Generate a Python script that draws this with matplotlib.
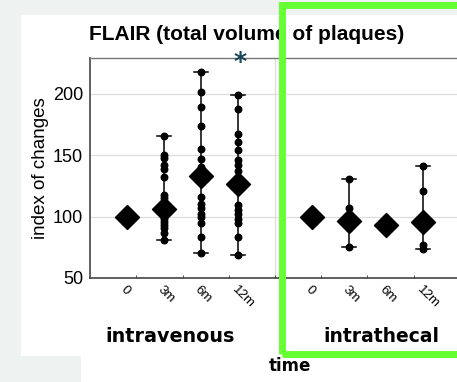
import numpy as np
import matplotlib
matplotlib.use('Agg')
import matplotlib.pyplot as plt
from matplotlib.patches import Rectangle

# time points and groups
tick_labels = ['0', '3m', '6m', '12m', '0', '3m', '6m', '12m']
positions = [1, 2, 3, 4, 6, 7, 8, 9]
groups = ['intravenous', 'intrathecal']

# individual values per time point (index of changes)
iv_0 = [100]
iv_3m = [165.8, 149.7, 147.5, 142.1, 138.9, 132.3, 117.7, 115.0, 112.0, 109.0,
         106.0, 104.0, 101.0, 98.0, 95.9, 93.0, 90.5, 86.4, 81.0]
iv_6m = [217.4, 201.3, 189.4, 173.3, 154.9, 146.8, 140.2, 135.0, 116.3, 110.3,
         107.0, 102.2, 99.5, 95.1, 83.2, 70.6]
iv_12m = [198.9, 187.5, 167.4, 160.6, 153.8, 146.2, 142.1, 137.2, 109.5, 105.4,
          102.2, 97.8, 95.1, 83.7, 69.0]
it_0 = [100]
it_3m = [130.7, 107.3, 90.5, 75.5]
it_6m = [93.2]
it_12m = [141.3, 120.7, 76.9, 73.4]

all_values = [iv_0, iv_3m, iv_6m, iv_12m, it_0, it_3m, it_6m, it_12m]
means = [100, 106.0, 132.6, 126.4, 100, 96.5, 93.2, 95.9]

fig = plt.figure(figsize=(4.57, 3.82), dpi=100)
fig.patch.set_facecolor('#eef2f1')
# white panel behind the chart
fig.patches.append(Rectangle((21 / 457, 26 / 382), 436 / 457, 341 / 382,
                             transform=fig.transFigure, facecolor='white',
                             edgecolor='none', zorder=-10))
fig.patches.append(Rectangle((81 / 457, 0), 376 / 457, 30 / 382,
                             transform=fig.transFigure, facecolor='white',
                             edgecolor='none', zorder=-10))

ax = fig.add_axes([90 / 457, 104 / 382, 370 / 457, 220 / 382])
ax.set_facecolor('white')
ax.set_xlim(0, 10)
ax.set_ylim(50, 229)

for p, vals, m in zip(positions, all_values, means):
    vals = np.array(vals)
    if len(vals) > 1:
        ax.plot([p, p], [vals.min(), vals.max()], color='black', lw=1.1, zorder=2)
        ax.plot([p - 0.18, p + 0.18], [vals.min()] * 2, color='black', lw=1.1, zorder=2)
        ax.plot([p - 0.18, p + 0.18], [vals.max()] * 2, color='black', lw=1.1, zorder=2)
        ax.scatter([p] * len(vals), vals, s=22, color='black', zorder=3)
    ax.scatter([p], [m], marker='D', s=150, color='black', zorder=4)

ax.text(4.05, 226, '*', color='#1a4656', fontsize=18, fontweight='bold',
        ha='center', va='center', zorder=5)

ax.set_yticks([50, 100, 150, 200])
ax.set_yticklabels(['50', '100', '150', '200'], fontsize=13, family='Liberation Sans')
ax.set_xticks(positions)
ax.set_xticklabels(tick_labels, rotation=-45, ha='left', va='top',
                   fontsize=9.5, family='Liberation Sans', rotation_mode='anchor')
ax.tick_params(axis='x', which='major', length=0, pad=4)
ax.tick_params(axis='y', length=0, pad=5)
ax.set_xticks(np.arange(1.25, 10, 1.25), minor=True)
ax.tick_params(axis='x', which='minor', direction='in', length=2, color='#333333')
for y in [100, 150, 200]:
    ax.axhline(y, color='#dddddd', lw=0.9, zorder=1)
ax.axvline(5, color='#dddddd', lw=0.9, zorder=1)

for side in ['left', 'bottom']:
    ax.spines[side].set_color('#444444')
    ax.spines[side].set_linewidth(1.2)
ax.spines['top'].set_color('#777777')
ax.spines['top'].set_linewidth(1.0)
ax.spines['right'].set_visible(False)

ax.set_ylabel('index of changes', fontsize=13.5, family='Liberation Sans', labelpad=3)

fig.text(247 / 457, 1 - 34 / 382, 'FLAIR (total volume of plaques)', fontsize=15,
         fontweight='bold', family='Liberation Sans', ha='center', va='center')
fig.text(170 / 457, 1 - 337 / 382, groups[0], fontsize=13.8, fontweight='bold',
         family='DejaVu Sans', ha='center', va='center')
fig.text(381 / 457, 1 - 337 / 382, groups[1], fontsize=13.5, fontweight='bold',
         family='DejaVu Sans', ha='center', va='center')
fig.text(290 / 457, 1 - 366 / 382, 'time', fontsize=12, fontweight='bold',
         family='DejaVu Sans', ha='center', va='center')

# green highlight frame
fig.patches.append(Rectangle((282 / 457, 28 / 382), 200 / 457, 349 / 382,
                             transform=fig.transFigure, facecolor='none',
                             edgecolor='#66ff33', lw=5, zorder=10))

fig.savefig('out.png', dpi=100, facecolor=fig.get_facecolor())
